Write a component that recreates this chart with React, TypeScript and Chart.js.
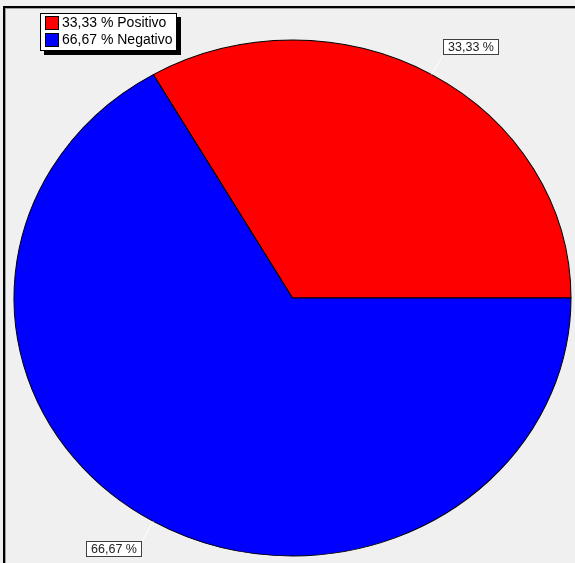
import React, { useEffect, useRef } from "react";
import { Chart, registerables } from "chart.js";

Chart.register(...registerables);

const categories = ["Positivo", "Negativo"];
const values = [33.33, 66.67];
const colors = ["#ff0000", "#0000ff"];

const W = 575;
const H = 563;
// ellipse geometry of the drawn pie
const CX = 292.5;
const CY = 298;
const RX = 278.5;
const RY = 258;

const fmt = (v: number) => v.toFixed(2).replace(".", ",");

const ellipsePlugin = {
  id: "ellipse",
  beforeDatasetsDraw(chart: any) {
    const a: any = chart.getDatasetMeta(0).data[0];
    const R = a.outerRadius;
    const ctx = chart.ctx;
    ctx.save();
    ctx.translate(CX, CY);
    ctx.scale(RX / R, RY / R);
    ctx.translate(-a.x, -a.y);
  },
  afterDatasetsDraw(chart: any) {
    chart.ctx.restore();
  },
};

const framePlugin = {
  id: "frame",
  beforeDraw(chart: any) {
    const ctx = chart.ctx;
    ctx.save();
    ctx.fillStyle = "#f0f0f0";
    ctx.fillRect(0, 0, W, H);
    ctx.fillStyle = "#000";
    ctx.fillRect(3, 6, W - 3, 2);
    ctx.fillRect(3, 6, 2, H - 6);
    ctx.fillStyle = "#a0a0a0";
    ctx.fillRect(5, 8, W - 5, 1);
    ctx.fillRect(5, 8, 1, H - 8);
    ctx.restore();
  },
};

const annotatePlugin = {
  id: "annotate",
  afterDraw(chart: any) {
    const ctx = chart.ctx;
    const meta = chart.getDatasetMeta(0);
    ctx.save();
    // slice labels with leader lines
    meta.data.forEach((el: any, i: number) => {
      const m = (el.startAngle + el.endAngle) / 2;
      const c = Math.cos(m);
      const s = Math.sin(m);
      const ex = CX + RX * c;
      const ey = CY + RY * s;
      const lx = ex + 22 * c;
      const ly = ey + 22 * s;
      ctx.strokeStyle = "#ffffff";
      ctx.lineWidth = 1;
      ctx.beginPath();
      ctx.moveTo(ex, ey);
      ctx.lineTo(lx, ly);
      ctx.stroke();
      const bw = 56;
      const bh = 16;
      const bx = Math.round(c >= 0 ? lx : lx - bw);
      const by = Math.round(s < 0 ? ly - bh : ly);
      ctx.fillStyle = "#ffffff";
      ctx.fillRect(bx, by, bw, bh);
      ctx.strokeStyle = "#404040";
      ctx.strokeRect(bx + 0.5, by + 0.5, bw - 1, bh - 1);
      ctx.fillStyle = "#222";
      ctx.font = '12.5px "Liberation Sans", Arial, sans-serif';
      ctx.textAlign = "center";
      ctx.textBaseline = "middle";
      ctx.fillText(fmt(values[i]) + " %", bx + bw / 2, by + bh / 2 + 0.5);
    });

    // legend
    const lx = 40;
    const ly = 13;
    const lw = 137;
    const lh = 38;
    ctx.fillStyle = "#000";
    ctx.fillRect(lx + 4, ly + 4, lw, lh);
    ctx.fillStyle = "#fff";
    ctx.fillRect(lx, ly, lw, lh);
    ctx.strokeStyle = "#000";
    ctx.lineWidth = 1;
    ctx.strokeRect(lx + 0.5, ly + 0.5, lw - 1, lh - 1);
    categories.forEach((cat, i) => {
      const y = ly + 3 + i * 17;
      ctx.fillStyle = colors[i];
      ctx.fillRect(lx + 5, y, 14, 14);
      ctx.strokeStyle = "#000";
      ctx.strokeRect(lx + 5.5, y + 0.5, 13, 13);
      ctx.fillStyle = "#000";
      ctx.font = '14px "Liberation Sans", Arial, sans-serif';
      ctx.textAlign = "left";
      ctx.textBaseline = "middle";
      ctx.fillText(fmt(values[i]) + " % " + cat, lx + 22, y + 7.5);
    });
    ctx.restore();
  },
};

export default function App() {
  const ref = useRef<HTMLCanvasElement | null>(null);
  useEffect(() => {
    if (!ref.current) return;
    const chart = new Chart(ref.current, {
      type: "pie",
      data: {
        labels: categories,
        datasets: [
          {
            data: values,
            backgroundColor: colors,
            borderColor: "#000",
            borderWidth: 1,
          },
        ],
      },
      options: {
        responsive: false,
        animation: false,
        rotation: -30,
        layout: { padding: { left: 9, right: 9, top: 3, bottom: 3 } },
        plugins: {
          legend: { display: false },
          tooltip: { enabled: false },
        },
      },
      plugins: [framePlugin, ellipsePlugin, annotatePlugin],
    });
    return () => chart.destroy();
  }, []);
  return (
    <div style={{ position: "fixed", left: 0, top: 0, width: W, height: H, background: "#f0f0f0" }}>
      <canvas ref={ref} width={W} height={H} style={{ display: "block", width: W, height: H }} />
    </div>
  );
}
